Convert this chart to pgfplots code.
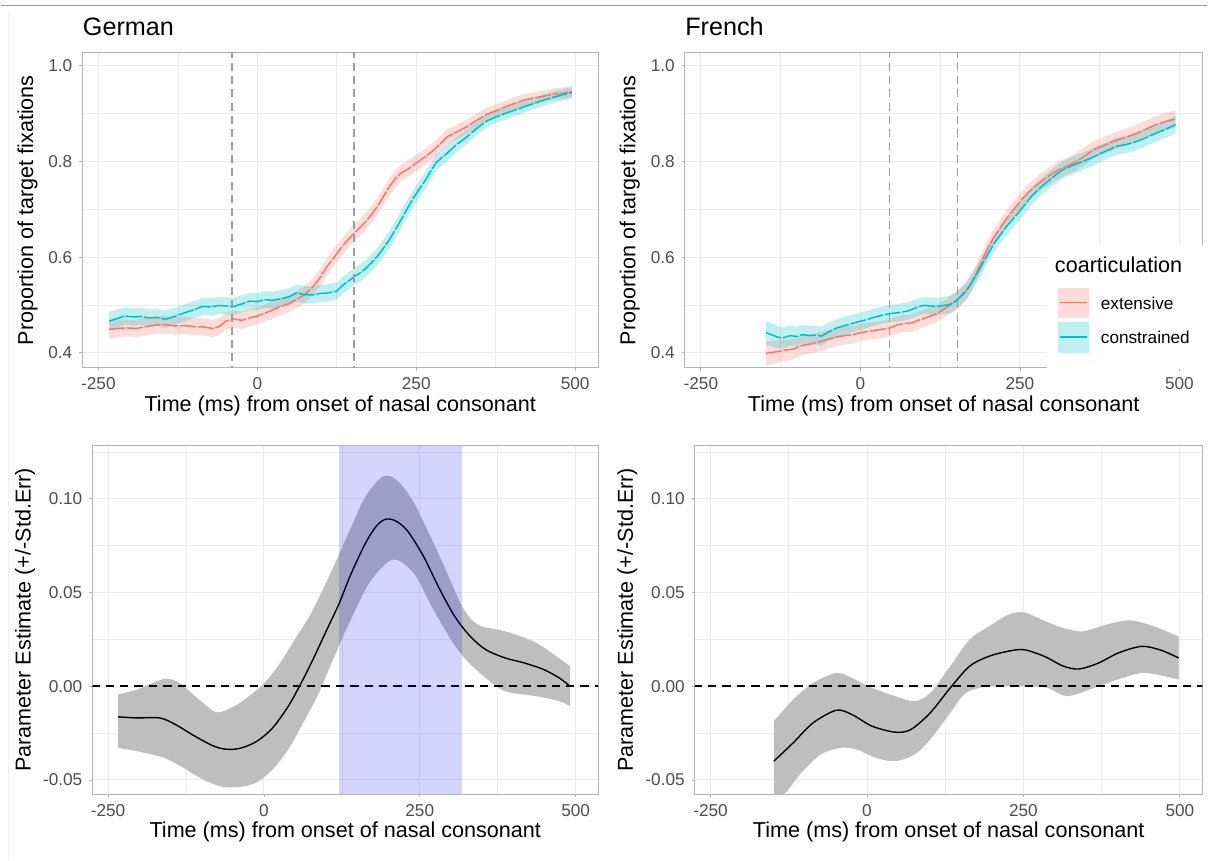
\documentclass[border=0pt]{standalone}
\usepackage{fontspec}
\setmainfont{Liberation Sans}
\usepackage{pgfplots}
\usepackage{pgfplotstable}
\pgfplotsset{compat=1.18}
\usepgfplotslibrary{fillbetween}

\definecolor{ggred}{HTML}{F8766D}
\definecolor{ggteal}{HTML}{00BFC4}
\definecolor{gridc}{HTML}{EBEBEB}
\definecolor{borderc}{HTML}{B3B3B3}
\definecolor{tickc}{HTML}{4D4D4D}
\definecolor{bandc}{HTML}{BEBEBE}

% top panels: time, mean, lower, upper
\pgfplotstableread{
t m lo hi
-233 0.449 0.429 0.469
-220 0.451 0.432 0.470
-205 0.452 0.434 0.470
-190 0.451 0.433 0.469
-175 0.455 0.437 0.473
-160 0.458 0.440 0.476
-145 0.459 0.441 0.477
-130 0.456 0.438 0.474
-115 0.457 0.439 0.475
-100 0.455 0.437 0.473
-85 0.454 0.436 0.472
-70 0.451 0.433 0.469
-60 0.455 0.437 0.473
-50 0.466 0.448 0.484
-37 0.471 0.453 0.489
-25 0.468 0.450 0.486
-12 0.473 0.455 0.491
0 0.477 0.459 0.495
12 0.483 0.465 0.501
25 0.490 0.472 0.508
37 0.497 0.479 0.515
50 0.503 0.485 0.521
61 0.511 0.493 0.529
75 0.522 0.504 0.540
86 0.536 0.518 0.554
98 0.556 0.538 0.574
110 0.581 0.563 0.599
122 0.602 0.584 0.620
134 0.623 0.605 0.641
145 0.640 0.622 0.658
153 0.651 0.633 0.669
163 0.664 0.646 0.682
171 0.675 0.657 0.693
180 0.690 0.672 0.708
189 0.706 0.688 0.724
198 0.726 0.708 0.744
208 0.748 0.730 0.766
217 0.764 0.746 0.782
226 0.776 0.759 0.793
238 0.785 0.768 0.802
250 0.797 0.780 0.814
262 0.808 0.791 0.825
275 0.821 0.804 0.838
287 0.836 0.820 0.852
299 0.852 0.836 0.868
314 0.862 0.847 0.877
330 0.873 0.858 0.888
345 0.886 0.872 0.900
360 0.898 0.884 0.912
375 0.906 0.893 0.919
391 0.915 0.902 0.928
406 0.922 0.909 0.935
421 0.929 0.917 0.941
436 0.933 0.921 0.945
452 0.937 0.925 0.949
467 0.941 0.929 0.953
482 0.943 0.931 0.955
495 0.946 0.934 0.958
}\gerext

\pgfplotstableread{
t m lo hi
-233 0.466 0.446 0.486
-220 0.472 0.453 0.491
-208 0.477 0.459 0.495
-195 0.475 0.457 0.493
-183 0.476 0.458 0.494
-171 0.473 0.455 0.491
-158 0.474 0.456 0.492
-145 0.470 0.452 0.488
-130 0.476 0.458 0.494
-116 0.483 0.465 0.501
-100 0.490 0.472 0.508
-86 0.497 0.479 0.515
-73 0.496 0.478 0.514
-61 0.499 0.481 0.517
-49 0.498 0.480 0.516
-37 0.497 0.479 0.515
-25 0.502 0.484 0.520
-12 0.508 0.490 0.526
0 0.507 0.489 0.525
12 0.511 0.493 0.529
25 0.510 0.492 0.528
37 0.513 0.495 0.531
50 0.517 0.499 0.535
61 0.525 0.507 0.543
74 0.522 0.504 0.540
86 0.521 0.503 0.539
98 0.524 0.506 0.542
110 0.525 0.507 0.543
125 0.529 0.511 0.547
134 0.541 0.523 0.559
145 0.552 0.534 0.570
153 0.560 0.542 0.578
163 0.568 0.550 0.586
171 0.577 0.559 0.595
180 0.589 0.571 0.607
189 0.602 0.584 0.620
198 0.618 0.600 0.636
208 0.637 0.619 0.655
217 0.657 0.639 0.675
226 0.678 0.660 0.696
235 0.699 0.681 0.717
244 0.720 0.702 0.738
253 0.739 0.721 0.757
263 0.758 0.740 0.776
272 0.778 0.760 0.796
281 0.797 0.780 0.814
290 0.808 0.791 0.825
299 0.818 0.801 0.835
314 0.836 0.820 0.852
330 0.852 0.837 0.867
345 0.869 0.855 0.883
360 0.884 0.870 0.898
375 0.893 0.880 0.906
391 0.901 0.888 0.914
406 0.908 0.895 0.921
421 0.915 0.903 0.927
436 0.922 0.910 0.934
452 0.929 0.917 0.941
467 0.935 0.923 0.947
482 0.940 0.928 0.952
495 0.944 0.932 0.956
}\gercon

\pgfplotstableread{
t m lo hi
-148 0.399 0.374 0.424
-138 0.401 0.377 0.425
-128 0.403 0.380 0.426
-116 0.406 0.384 0.428
-104 0.408 0.387 0.429
-95 0.414 0.394 0.434
-85 0.417 0.397 0.437
-73 0.420 0.400 0.440
-61 0.424 0.404 0.444
-49 0.429 0.410 0.448
-37 0.433 0.414 0.452
-25 0.436 0.417 0.455
-12 0.438 0.419 0.457
0 0.442 0.424 0.460
12 0.445 0.427 0.463
28 0.448 0.430 0.466
46 0.452 0.434 0.470
57 0.458 0.440 0.476
67 0.461 0.443 0.479
79 0.462 0.444 0.480
91 0.468 0.450 0.486
104 0.474 0.456 0.492
116 0.480 0.462 0.498
125 0.486 0.468 0.504
134 0.494 0.476 0.512
143 0.502 0.484 0.520
152 0.511 0.493 0.529
162 0.524 0.506 0.542
171 0.539 0.521 0.557
180 0.562 0.544 0.580
189 0.588 0.570 0.606
198 0.613 0.595 0.631
207 0.637 0.619 0.655
217 0.657 0.639 0.675
226 0.675 0.657 0.693
235 0.691 0.673 0.709
244 0.706 0.688 0.724
253 0.721 0.703 0.739
262 0.734 0.716 0.752
275 0.749 0.731 0.767
287 0.762 0.744 0.780
299 0.773 0.755 0.791
311 0.783 0.765 0.801
323 0.790 0.772 0.808
335 0.797 0.779 0.815
350 0.810 0.792 0.828
366 0.825 0.807 0.843
381 0.833 0.815 0.851
396 0.842 0.824 0.860
415 0.850 0.832 0.868
433 0.859 0.841 0.877
448 0.868 0.850 0.886
463 0.877 0.859 0.895
479 0.884 0.866 0.902
494 0.889 0.871 0.907
}\freext

\pgfplotstableread{
t m lo hi
-148 0.442 0.417 0.467
-138 0.437 0.413 0.461
-128 0.432 0.409 0.455
-122 0.431 0.409 0.453
-110 0.436 0.415 0.457
-100 0.434 0.414 0.454
-91 0.438 0.418 0.458
-80 0.436 0.416 0.456
-70 0.437 0.417 0.457
-61 0.435 0.415 0.455
-49 0.444 0.425 0.463
-37 0.452 0.433 0.471
-22 0.458 0.439 0.477
-6 0.464 0.446 0.482
6 0.468 0.450 0.486
18 0.473 0.455 0.491
32 0.478 0.460 0.496
46 0.482 0.464 0.500
60 0.484 0.466 0.502
73 0.487 0.469 0.505
85 0.493 0.475 0.511
98 0.499 0.481 0.517
110 0.498 0.480 0.516
122 0.497 0.479 0.515
131 0.499 0.481 0.517
140 0.501 0.483 0.519
148 0.507 0.489 0.525
155 0.515 0.497 0.533
165 0.528 0.510 0.546
174 0.546 0.528 0.564
183 0.566 0.548 0.584
192 0.588 0.570 0.606
201 0.609 0.591 0.627
210 0.630 0.612 0.648
220 0.648 0.630 0.666
229 0.664 0.646 0.682
238 0.678 0.660 0.696
247 0.692 0.674 0.710
258 0.710 0.692 0.728
268 0.727 0.709 0.745
280 0.743 0.725 0.761
293 0.758 0.740 0.776
305 0.771 0.753 0.789
317 0.783 0.765 0.801
333 0.792 0.774 0.810
348 0.800 0.782 0.818
363 0.808 0.790 0.826
378 0.818 0.800 0.836
390 0.825 0.807 0.843
402 0.832 0.814 0.850
418 0.836 0.818 0.854
433 0.842 0.824 0.860
448 0.850 0.832 0.868
463 0.859 0.841 0.877
479 0.868 0.850 0.886
494 0.877 0.859 0.895
}\frcon

% bottom panels: estimate and its +/- SE band
\pgfplotstableread{
t v
-234 -0.0163
-204 -0.0169
-167 -0.0169
-142 -0.0204
-111 -0.0266
-80 -0.0320
-58 -0.0337
-36 -0.0329
-11 -0.0293
14 -0.0222
39 -0.0107
57 0.0000
76 0.0124
101 0.0302
121 0.0444
138 0.0586
163 0.0764
182 0.0861
197 0.0892
213 0.0879
231 0.0826
256 0.0693
281 0.0524
306 0.0373
331 0.0266
356 0.0195
387 0.0151
418 0.0124
449 0.0089
474 0.0044
491 0.0000
}\germ

\pgfplotstableread{
t v
-234 -0.0044
-204 -0.0018
-160 0.0039
-136 0.0018
-104 -0.0071
-76 -0.0139
-48 -0.0107
-24 -0.0053
1 0.0018
26 0.0124
51 0.0258
76 0.0391
107 0.0604
138 0.0835
163 0.1012
191 0.1119
213 0.1101
238 0.0995
262 0.0835
287 0.0657
318 0.0426
343 0.0329
387 0.0293
437 0.0231
491 0.0107
}\gerhi

\pgfplotstableread{
t v
-234 -0.0329
-204 -0.0346
-160 -0.0382
-129 -0.0435
-98 -0.0497
-67 -0.0536
-36 -0.0536
-11 -0.0512
14 -0.0444
39 -0.0337
63 -0.0195
88 -0.0036
113 0.0160
138 0.0346
169 0.0551
200 0.0666
219 0.0666
244 0.0586
269 0.0426
300 0.0249
324 0.0142
356 0.0044
387 -0.0027
437 -0.0053
474 -0.0080
491 -0.0107
}\gerlo

\pgfplotstableread{
t v
-149 -0.0400
-118 -0.0302
-86 -0.0195
-49 -0.0128
-24 -0.0151
8 -0.0213
45 -0.0245
70 -0.0231
101 -0.0142
133 -0.0009
164 0.0107
195 0.0160
226 0.0187
251 0.0195
283 0.0160
314 0.0107
339 0.0092
370 0.0124
402 0.0178
439 0.0213
470 0.0192
498 0.0151
}\frm

\pgfplotstableread{
t v
-149 -0.0187
-118 -0.0071
-86 0.0018
-49 0.0071
-24 0.0044
8 -0.0009
45 -0.0053
76 -0.0080
101 -0.0036
133 0.0107
164 0.0249
195 0.0320
226 0.0382
251 0.0394
283 0.0350
314 0.0310
345 0.0293
383 0.0329
420 0.0352
458 0.0320
498 0.0266
}\frhi

\pgfplotstableread{
t v
-149 -0.0610
-130 -0.0568
-105 -0.0462
-74 -0.0364
-43 -0.0329
-17 -0.0337
14 -0.0382
45 -0.0400
76 -0.0364
101 -0.0284
133 -0.0142
158 -0.0036
195 0.0000
251 0.0000
289 -0.0009
320 -0.0053
370 0.0000
408 0.0044
445 0.0071
498 0.0036
}\frlo

\pgfplotsset{
  ggpanel/.style={
    scale only axis,
    anchor=south west,
    axis line style={draw=borderc, line width=0.5pt},
    grid=both,
    major grid style={draw=gridc, line width=0.5pt},
    minor grid style={draw=gridc, line width=0.3pt},
    tick align=outside,
    major tick length=1.6pt,
    minor tick length=0pt,
    xtick pos=left, ytick pos=left,
    tick style={draw=borderc, line width=0.4pt},
    xmin=-275, xmax=536,
    xtick={-250,0,250,500},
    xticklabels={-250,0,250,500},
    minor xtick={-125,125,375},
    ticklabel style={font=\fontsize{8.6}{10}\selectfont, text=tickc},
  },
  toppanel/.style={
    ggpanel, height=157.5pt,
    ymin=0.369, ymax=1.027,
    ytick={0.4,0.6,0.8,1.0},
    yticklabels={0.4,0.6,0.8,1.0},
    minor ytick={0.5,0.7,0.9},
  },
  botpanel/.style={
    ggpanel, height=174.5pt,
    ymin=-0.0576, ymax=0.1284,
    ytick={-0.05,0,0.05,0.10},
    yticklabels={-0.05,0.00,0.05,0.10},
    minor ytick={-0.025,0.025,0.075,0.125},
  },
  meanline/.style={line width=0.75pt, dash pattern=on 8pt off 0.9pt},
  vmark/.style={draw=black!38, line width=0.65pt, dash pattern=on 4pt off 2.6pt},
  zeroline/.style={black, line width=0.8pt, dash pattern=on 4.2pt off 3pt},
}

\begin{document}
\begin{tikzpicture}
\path (0,0) rectangle (604pt,-430.5pt);
\draw[black!40, line width=0.6pt] (0,-2.8pt) -- (604pt,-2.8pt);
\draw[black!6, line width=0.4pt] (4pt,-6pt) -- (4pt,-430.5pt);

% German, fixations
\begin{axis}[toppanel, at={(41pt,-184pt)}, width=258pt]
\addplot[ggred, meanline] table[x=t, y=m] {\gerext};
\addplot[ggteal, meanline] table[x=t, y=m] {\gercon};
\addplot[name path=ga, draw=none] table[x=t, y=hi] {\gerext};
\addplot[name path=gb, draw=none] table[x=t, y=lo] {\gerext};
\addplot[ggred, fill opacity=0.25, on layer=main] fill between[of=ga and gb];
\addplot[name path=gc, draw=none] table[x=t, y=hi] {\gercon};
\addplot[name path=gd, draw=none] table[x=t, y=lo] {\gercon};
\addplot[ggteal, fill opacity=0.25, on layer=main] fill between[of=gc and gd];
\addplot[vmark] coordinates {(-40,0.3) (-40,1.1)};
\addplot[vmark] coordinates {(152,0.3) (152,1.1)};
\end{axis}

% French, fixations
\begin{axis}[toppanel, at={(342.5pt,-184pt)}, width=259pt]
\addplot[ggred, meanline] table[x=t, y=m] {\freext};
\addplot[ggteal, meanline] table[x=t, y=m] {\frcon};
\addplot[name path=fa, draw=none] table[x=t, y=hi] {\freext};
\addplot[name path=fb, draw=none] table[x=t, y=lo] {\freext};
\addplot[ggred, fill opacity=0.25, on layer=main] fill between[of=fa and fb];
\addplot[name path=fc, draw=none] table[x=t, y=hi] {\frcon};
\addplot[name path=fd, draw=none] table[x=t, y=lo] {\frcon};
\addplot[ggteal, fill opacity=0.25, on layer=main] fill between[of=fc and fd];
\addplot[vmark] coordinates {(46,0.3) (46,1.1)};
\addplot[vmark] coordinates {(152,0.3) (152,1.1)};
\end{axis}

% German, estimate
\begin{axis}[botpanel, at={(46pt,-397.5pt)}, width=253pt]
\addplot[name path=gu, draw=none, smooth] table[x=t, y=v] {\gerhi};
\addplot[name path=gl, draw=none, smooth] table[x=t, y=v] {\gerlo};
\addplot[bandc] fill between[of=gu and gl];
\addplot[zeroline] coordinates {(-300,0) (560,0)};
\addplot[black, line width=0.7pt, smooth] table[x=t, y=v] {\germ};
\addplot[draw=none, fill=blue, fill opacity=0.17] coordinates {(120,-0.0574) (318,-0.0574) (318,0.1282) (120,0.1282)} --cycle;
\end{axis}

% French, estimate
\begin{axis}[botpanel, at={(347.5pt,-397.5pt)}, width=254pt]
\addplot[name path=fu, draw=none, smooth] table[x=t, y=v] {\frhi};
\addplot[name path=fl, draw=none, smooth] table[x=t, y=v] {\frlo};
\addplot[bandc] fill between[of=fu and fl];
\addplot[zeroline] coordinates {(-300,0) (560,0)};
\addplot[black, line width=0.7pt, smooth] table[x=t, y=v] {\frm};
\end{axis}

% titles and axis labels
\begin{scope}[every node/.style={inner sep=0pt}]
\node[anchor=base west, font=\fontsize{12.6}{15}\selectfont] at (41pt,-18pt) {German};
\node[anchor=base west, font=\fontsize{12.6}{15}\selectfont] at (342.5pt,-18pt) {French};
\end{scope}
\begin{scope}[every node/.style={font=\fontsize{10.8}{13}\selectfont}]
\node[rotate=90, anchor=base] at (16.25pt,-105.25pt) {Proportion of target fixations};
\node[rotate=90, anchor=base] at (317.75pt,-105.25pt) {Proportion of target fixations};
\node[rotate=90, anchor=base] at (15pt,-310.25pt) {Parameter Estimate (+/-Std.Err)};
\node[rotate=90, anchor=base] at (316.5pt,-310.25pt) {Parameter Estimate (+/-Std.Err)};
\node[anchor=base] at (170pt,-206pt) {Time (ms) from onset of nasal consonant};
\node[anchor=base] at (472pt,-206pt) {Time (ms) from onset of nasal consonant};
\node[anchor=base] at (172.5pt,-419pt) {Time (ms) from onset of nasal consonant};
\node[anchor=base] at (474.5pt,-419pt) {Time (ms) from onset of nasal consonant};
\end{scope}

% legend
\fill[white] (523.5pt,-122.5pt) rectangle (604pt,-184.6pt);
\node[inner sep=0pt, anchor=base west, font=\fontsize{10.8}{13}\selectfont] at (527.5pt,-136.5pt) {coarticulation};
\fill[ggred!25] (529pt,-144pt) rectangle (544.5pt,-159pt);
\draw[ggred, line width=0.7pt] (530pt,-151.5pt) -- (543.5pt,-151.5pt);
\fill[ggteal!25] (529pt,-161pt) rectangle (544.5pt,-176.5pt);
\draw[ggteal, line width=0.7pt] (530pt,-168.75pt) -- (543.5pt,-168.75pt);
\node[inner sep=0pt, anchor=base west, font=\fontsize{8.6}{10}\selectfont] at (550.5pt,-155pt) {extensive};
\node[inner sep=0pt, anchor=base west, font=\fontsize{8.6}{10}\selectfont] at (550.5pt,-172pt) {constrained};
\end{tikzpicture}
\end{document}
